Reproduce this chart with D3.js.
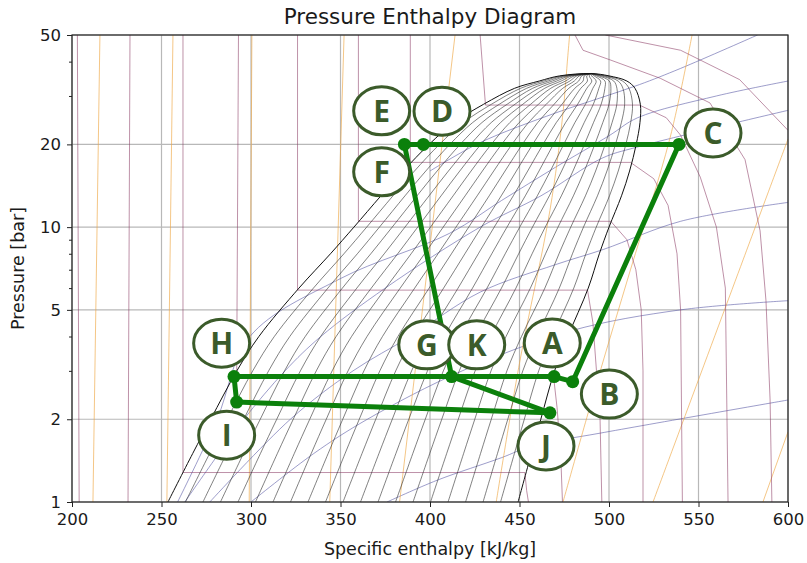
<!DOCTYPE html>
<html>
<head>
<meta charset="utf-8">
<script src="https://cdn.jsdelivr.net/npm/d3@7"></script>
<style>
  body { margin: 0; background: #fff; }
  svg { display: block; }
  text { font-family: "DejaVu Sans", sans-serif; fill: #1a1a1a; }
</style>
</head>
<body>
<svg id="chart" width="807" height="563"></svg>
<script>
// saturation dome (enthalpy kJ/kg at each pressure, bar)
const satP    = [1, 1.5, 2, 3, 4, 6, 8, 10, 13, 16, 20, 24, 28, 32, 34, 35.5, 36.2];
const satLiqH = [253.6, 267.4, 277.5, 292.1, 304.4, 326.8, 344.4, 357.5, 372.6, 385, 399.5, 413.4, 430, 447.3, 461, 472.4, 490];
const satVapH = [449.2, 456.6, 461.9, 469.6, 477.0, 488.4, 494.6, 500, 507, 511.5, 515.2, 517.3, 517.5, 514.5, 510, 500, 490];
const qualities = [0.05, 0.1, 0.15, 0.2, 0.25, 0.3, 0.35, 0.4, 0.45, 0.5, 0.55, 0.6, 0.65, 0.7, 0.75, 0.8, 0.85, 0.9, 0.95];

// background property lines as [h, p] points
const isotherms = [
  [[204, 1], [203, 50]],
  [[231.3, 1], [232.4, 50]],
  [[262, 50], [262, 1.28], [453, 1.28], [454, 1.1], [455, 1]],
  [[293, 50], [292, 2.87], [469, 2.87], [471, 2.2], [473, 1.5], [474, 1]],
  [[326, 50], [326, 5.9], [488, 5.9], [491, 4.5], [493, 3], [495, 2], [496, 1]],
  [[360, 50], [360, 10.5], [501, 10.5], [510, 9], [515, 7], [518, 5], [519, 3], [519, 1]],
  [[389, 50], [389, 17.2], [512, 17.2], [525, 15], [533, 12], [538, 8], [540, 5], [541, 1]],
  [[428, 50], [431, 27.8], [517, 27.8], [532, 25], [540, 21.6], [551, 15.2], [560, 10], [565, 6], [566.5, 1]],
  [[481, 50], [485.5, 44], [500.6, 40.6], [528.6, 34.8], [556.4, 28.3], [576, 17.6], [584.4, 9.7], [587.7, 5.4], [590, 2.35], [591, 1]],
  [[498, 50], [540, 44], [573, 34.4], [600, 22.5]]
];
const isentropes = [
  [[211.7, 1], [215.6, 50]],
  [[253, 1], [256.4, 50]],
  [[299, 1], [300.5, 50]],
  [[344, 1], [352, 50]],
  [[383, 1], [414, 50]],
  [[437, 1], [450, 3.2], [467, 11.5], [474, 25], [477, 42], [478, 50]],
  [[474.3, 1], [493.3, 2.73], [512, 7], [534, 21], [546.4, 50]],
  [[524.6, 1], [574.9, 7.6], [600, 20.9]],
  [[586, 1], [600, 1.8]]
];
const isochores = [
  [[376, 1], [404, 1.2], [440, 1.45], [457, 1.6], [495, 1.78], [600, 2.35]],
  [[300, 1], [335, 1.5], [365, 2], [418, 3], [479, 4.2], [540, 5.0], [600, 5.4]],
  [[277, 1], [322, 2], [357, 3], [389, 4], [428, 5.8], [470, 7.3], [497, 8.3], [540, 10.5], [600, 12.3]],
  [[263, 1], [282, 1.5], [296, 2], [319, 3], [339, 4], [375, 6], [428, 10], [462, 13], [496, 17.8], [515, 19.5], [600, 26.6]],
  [[259, 1], [281, 2], [299.4, 4], [350, 6.5], [411, 9.5], [440, 12.5], [470, 16.5], [500, 21.5], [516, 25], [560, 30], [600, 34]],
  [[400, 16], [428, 20.3], [470, 26], [495, 29.5], [517, 33], [540, 37.8], [583, 50]]
];

// refrigeration cycle
const stateNames = ["A", "B", "C", "D", "E", "G", "H", "I", "J"];
const stateH = [469.3, 479.7, 539.1, 396.3, 385.7, 412.1, 290.5, 292, 467];
const stateP = [2.86, 2.74, 20, 20, 20, 2.86, 2.86, 2.31, 2.11];
const cycleSegments = [["H", "A"], ["A", "B"], ["B", "C"], ["C", "E"], ["E", "G"], ["G", "J"], ["H", "I"], ["I", "J"]];

const labelNames = ["A", "B", "C", "D", "E", "F", "G", "H", "I", "J", "K"];
const labelH = [468.3, 500.2, 558.1, 406.7, 373, 373, 398.2, 283.6, 286.4, 464.8, 426.1];
const labelP = [3.79, 2.47, 22.0, 26.4, 26.5, 15.9, 3.73, 3.78, 1.75, 1.60, 3.73];

// axes
const hTicks = [200, 250, 300, 350, 400, 450, 500, 550, 600];
const pTicks = [1, 2, 5, 10, 20, 50];
const pMinorTicks = [3, 4, 6, 7, 8, 9, 30, 40];

const plotLeft = 72, plotRight = 788, plotTop = 35, plotBottom = 502;

const x = d3.scaleLinear().domain([200, 600]).range([plotLeft, plotRight]);
const y = d3.scaleLog().domain([1, 50]).range([plotBottom, plotTop]);

const svg = d3.select("#chart");

svg.append("defs").append("clipPath").attr("id", "plotClip")
  .append("rect")
  .attr("x", plotLeft).attr("y", plotTop)
  .attr("width", plotRight - plotLeft).attr("height", plotBottom - plotTop);

// grid
const grid = svg.append("g");
grid.selectAll(".gx").data(hTicks).enter().append("line")
  .attr("x1", d => x(d)).attr("x2", d => x(d))
  .attr("y1", plotTop).attr("y2", plotBottom)
  .attr("stroke", "#b8b8b8").attr("stroke-width", 1.2);
grid.selectAll(".gy").data(pTicks).enter().append("line")
  .attr("x1", plotLeft).attr("x2", plotRight)
  .attr("y1", d => y(d)).attr("y2", d => y(d))
  .attr("stroke", "#b8b8b8").attr("stroke-width", 1.2);

const plot = svg.append("g").attr("clip-path", "url(#plotClip)");

const line = d3.line().x(d => x(d[0])).y(d => y(d[1]));
const smooth = d3.line().x(d => x(d[0])).y(d => y(d[1])).curve(d3.curveCatmullRom.alpha(0.5));

plot.selectAll(".isochore").data(isochores).enter().append("path")
  .attr("d", smooth)
  .attr("fill", "none").attr("stroke", "#5a5aa6").attr("stroke-width", 0.8).attr("opacity", 0.75);

plot.selectAll(".isentrope").data(isentropes).enter().append("path")
  .attr("d", smooth)
  .attr("fill", "none").attr("stroke", "#eea640").attr("stroke-width", 0.8).attr("opacity", 0.8);

plot.selectAll(".isotherm").data(isotherms).enter().append("path")
  .attr("d", line)
  .attr("fill", "none").attr("stroke", "#8b3a62").attr("stroke-width", 0.8).attr("opacity", 0.7);

// quality lines inside the dome
const qualityLines = qualities.map(q => satP.map((p, i) => [satLiqH[i] + q * (satVapH[i] - satLiqH[i]), p]));
plot.selectAll(".quality").data(qualityLines).enter().append("path")
  .attr("d", smooth)
  .attr("fill", "none").attr("stroke", "#2a2a2a").attr("stroke-width", 0.7).attr("opacity", 0.85);

// dome outline
const dome = satP.map((p, i) => [satLiqH[i], p])
  .concat(satP.slice(0, -1).map((p, i) => [satVapH[i], p]).reverse());
plot.append("path")
  .attr("d", smooth(dome))
  .attr("fill", "none").attr("stroke", "#111").attr("stroke-width", 1);

// cycle
const green = "#0b800b";
const stateAt = name => {
  const i = stateNames.indexOf(name);
  return [stateH[i], stateP[i]];
};
svg.append("g").selectAll("line").data(cycleSegments).enter().append("line")
  .attr("x1", d => x(stateAt(d[0])[0])).attr("y1", d => y(stateAt(d[0])[1]))
  .attr("x2", d => x(stateAt(d[1])[0])).attr("y2", d => y(stateAt(d[1])[1]))
  .attr("stroke", green).attr("stroke-width", 5).attr("stroke-linecap", "round");
svg.append("g").selectAll("circle").data(stateNames).enter().append("circle")
  .attr("cx", (d, i) => x(stateH[i])).attr("cy", (d, i) => y(stateP[i]))
  .attr("r", 6.5).attr("fill", green);

// labels
const labels = svg.append("g").selectAll("g").data(labelNames).enter().append("g")
  .attr("transform", (d, i) => `translate(${x(labelH[i])},${y(labelP[i])})`);
labels.append("ellipse")
  .attr("rx", 28).attr("ry", 24)
  .attr("fill", "#fff").attr("stroke", "#3b5b2a").attr("stroke-width", 3);
labels.append("text")
  .attr("text-anchor", "middle").attr("dy", "0.36em")
  .style("font-family", "'Open Sans', 'DejaVu Sans', sans-serif")
  .style("font-weight", "700").style("font-size", "30px")
  .style("fill", "#3b5b2a")
  .text(d => d);

// frame and ticks
svg.append("rect")
  .attr("x", plotLeft).attr("y", plotTop)
  .attr("width", plotRight - plotLeft).attr("height", plotBottom - plotTop)
  .attr("fill", "none").attr("stroke", "#222").attr("stroke-width", 1.2);

const xAxis = svg.append("g").attr("transform", `translate(0,${plotBottom})`)
  .call(d3.axisBottom(x).tickValues(hTicks).tickFormat(d3.format("d")).tickSize(5).tickPadding(6));
const yAxis = svg.append("g").attr("transform", `translate(${plotLeft},0)`)
  .call(d3.axisLeft(y).tickValues(pTicks).tickFormat(d3.format("d")).tickSize(5).tickPadding(6));
svg.append("g").attr("transform", `translate(${plotLeft},0)`)
  .call(d3.axisLeft(y).tickValues(pMinorTicks).tickFormat("").tickSize(3))
  .select(".domain").remove();

[xAxis, yAxis].forEach(a => {
  a.select(".domain").remove();
  a.selectAll("text").style("font-size", "16.5px").style("font-family", "'DejaVu Sans', sans-serif").attr("fill", "#1a1a1a");
});
svg.selectAll(".tick line").attr("stroke", "#222");

svg.append("text")
  .attr("x", (plotLeft + plotRight) / 2).attr("y", 24)
  .attr("text-anchor", "middle").style("font-size", "21.5px")
  .text("Pressure Enthalpy Diagram");

svg.append("text")
  .attr("x", (plotLeft + plotRight) / 2).attr("y", 555)
  .attr("text-anchor", "middle").style("font-size", "17.5px")
  .text("Specific enthalpy [kJ/kg]");

svg.append("text")
  .attr("transform", `translate(24,${(plotTop + plotBottom) / 2}) rotate(-90)`)
  .attr("text-anchor", "middle").style("font-size", "17.5px")
  .text("Pressure [bar]");
</script>
</body>
</html>
